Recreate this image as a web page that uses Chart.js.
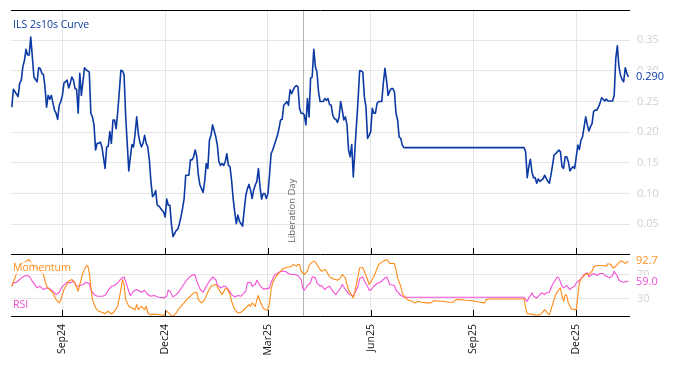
<!DOCTYPE html>
<html><head><meta charset="utf-8">
<script src="https://cdn.jsdelivr.net/npm/chart.js@4.4.1/dist/chart.umd.min.js"></script>
<style>
html,body{margin:0;padding:0;background:#fff;}
#wrap{position:relative;width:674px;height:366px;overflow:hidden;}
canvas{position:absolute;left:0;top:0;}
</style></head><body>
<div id="wrap"><canvas id="cTop" width="674" height="366"></canvas><canvas id="cBot" width="674" height="366"></canvas></div>
<script>
// x = trading-day index from 18 Jul 2024
const tickIdx = [32, 97, 162, 227, 292, 357];
const tickLabels = ['Sep24', 'Dec24', 'Mar25', 'Jun25', 'Sep25', 'Dec25'];
const eventIdx = 184;
const eventLabel = 'Liberation Day';
const curveName = 'ILS 2s10s Curve';
const momName = 'Momentum';
const rsiName = 'RSI';
const curveTicks = [0.05, 0.10, 0.15, 0.20, 0.25, 0.30, 0.35];
const oscTicks = [30, 70];

const curvePoints = [
[0,.241],[1,.270],[2,.266],[4,.258],[5,.280],[6,.285],[7,.307],[8,.317],[9,.335],[10,.326],[11,.326],[12,.355],[13,.323],[14,.290],[16,.282],[17,.305],[18,.304],[19,.296],[20,.294],[21,.274],[22,.241],[23,.260],[24,.254],[25,.260],[27,.236],[28,.231],[29,.221],[30,.244],[31,.250],[32,.260],[33,.280],[35,.285],[36,.272],[37,.280],[38,.290],[39,.285],[40,.271],[41,.270],[42,.231],[43,.296],[44,.260],[45,.282],[46,.305],[47,.302],[49,.298],[50,.231],[51,.225],[52,.212],[53,.171],[54,.182],[55,.182],[56,.184],[57,.176],[59,.141],[60,.176],[61,.177],[62,.201],[63,.182],[64,.220],[65,.220],[66,.206],[67,.233],[68,.266],[69,.301],[70,.300],[71,.294],[72,.228],[73,.182],[74,.137],[75,.160],[76,.180],[77,.176],[78,.198],[79,.225],[80,.198],[81,.184],[82,.176],[83,.182],[84,.195],[85,.182],[86,.176],[87,.155],[88,.120],[89,.095],[90,.098],[91,.105],[92,.081],[93,.080],[95,.073],[96,.070],[97,.062],[98,.091],[99,.081],[100,.081],[101,.049],[102,.030],[103,.035],[104,.040],[105,.042],[106,.051],[107,.062],[108,.076],[109,.092],[110,.130],[111,.130],[112,.130],[113,.155],[114,.155],[115,.160],[116,.171],[117,.160],[118,.130],[119,.114],[121,.102],[122,.120],[123,.149],[124,.141],[125,.187],[126,.195],[127,.212],[129,.193],[130,.179],[131,.152],[132,.146],[133,.149],[134,.146],[135,.152],[136,.165],[137,.146],[138,.144],[139,.122],[140,.092],[141,.070],[142,.051],[143,.065],[144,.055],[145,.051],[146,.047],[147,.073],[148,.097],[149,.108],[150,.115],[151,.106],[152,.092],[153,.106],[154,.114],[155,.120],[156,.141],[157,.111],[158,.091],[159,.100],[160,.100],[161,.092],[162,.100],[163,.130],[164,.165],[165,.171],[166,.179],[168,.195],[169,.206],[170,.220],[171,.221],[172,.244],[173,.247],[174,.250],[175,.244],[176,.269],[177,.263],[178,.269],[179,.274],[180,.276],[181,.274],[182,.239],[183,.231],[184,.231],[185,.228],[186,.212],[187,.255],[188,.225],[189,.288],[190,.290],[191,.335],[192,.307],[193,.298],[194,.266],[195,.250],[196,.250],[197,.250],[198,.255],[199,.252],[200,.255],[201,.245],[202,.244],[203,.228],[204,.222],[205,.221],[206,.216],[207,.225],[208,.250],[209,.236],[210,.220],[211,.225],[212,.212],[213,.171],[214,.160],[215,.180],[216,.127],[217,.171],[218,.212],[219,.252],[220,.300],[221,.300],[222,.298],[223,.258],[224,.241],[225,.190],[226,.195],[227,.201],[228,.239],[229,.231],[230,.231],[231,.247],[232,.250],[233,.250],[234,.250],[235,.280],[236,.304],[237,.285],[238,.260],[239,.267],[240,.271],[241,.271],[242,.266],[243,.231],[244,.220],[245,.192],[246,.190],[247,.179],[248,.175],[270,.175],[300,.175],[324,.175],[325,.168],[326,.126],[327,.144],[328,.156],[329,.135],[330,.126],[331,.126],[332,.117],[333,.124],[334,.120],[336,.124],[337,.130],[338,.125],[339,.120],[340,.117],[341,.130],[342,.146],[343,.163],[344,.165],[345,.168],[346,.171],[347,.168],[348,.144],[349,.141],[350,.160],[351,.160],[352,.152],[353,.137],[354,.141],[355,.144],[356,.141],[357,.160],[358,.179],[359,.172],[360,.187],[361,.193],[362,.209],[363,.225],[364,.212],[365,.202],[366,.209],[367,.214],[368,.234],[369,.236],[370,.236],[371,.241],[372,.247],[373,.256],[374,.254],[375,.251],[376,.254],[377,.251],[380,.251],[381,.260],[382,.320],[383,.341],[384,.307],[385,.293],[386,.286],[387,.282],[388,.305],[389,.296],[390,.290]
];

const momentumPoints = [
[0,51.1],[2,65],[5,87],[8,91],[11,95.6],[13,87],[17,79],[20,70.6],[22,51],[24,45.6],[26,40],[28,28.9],[30,23.4],[31,28.9],[33,45.6],[36,59.5],[38,62.3],[40,56.7],[42,42.8],[43,53.9],[45,73.4],[47,84.5],[48,85.6],[49,73.4],[50,51.1],[51,28.9],[53,15],[55,9.5],[57,7.8],[59,5.6],[61,9.5],[63,5],[65,9.5],[67,17.8],[69,45.6],[70,62.3],[71,53.9],[72,28.9],[74,17.8],[76,15],[78,12.2],[79,20.6],[80,12.2],[82,17.8],[84,12.2],[85,17.8],[86,6.7],[88,3.9],[90,5],[93,3.9],[95,3.4],[96,2.3],[98,9.5],[99,8],[101,2.3],[102,1.1],[104,6.7],[106,15],[109,23.4],[111,30],[113,34.5],[115,40],[117,41.1],[118,28.9],[120,23.4],[122,28.9],[124,41.1],[126,51.1],[129,53.9],[131,45.6],[133,37.2],[135,46.7],[136,48],[138,37.2],[139,26.1],[141,12.2],[143,6.7],[145,7.8],[148,15],[150,20.6],[151,17.8],[152,23.4],[154,17.8],[155,28.9],[156,35.6],[157,26.1],[159,15],[161,11.1],[162,12.2],[163,23.4],[164,45.6],[165,56.7],[167,66.7],[169,73.4],[171,79],[173,81.7],[176,83.4],[177,84.5],[178,87.3],[180,84.5],[181,87.3],[182,87.3],[183,76.1],[185,70.6],[187,76.1],[188,85.6],[190,91.1],[191,92.8],[192,91.1],[193,87.3],[195,79],[196,76.1],[198,79],[199,76.1],[201,66.7],[203,63.4],[205,62.3],[206,61.1],[208,65],[209,70.6],[211,65],[212,53.9],[213,44.5],[215,35.6],[216,31.7],[217,42.8],[219,67.8],[220,81.7],[222,81.7],[223,76.1],[225,62.3],[226,53.9],[227,57.8],[229,67.8],[230,73.4],[232,87.3],[234,91.1],[235,92.8],[237,95.6],[238,93],[239,88.9],[242,88.9],[243,79],[244,65],[246,51.1],[247,38.9],[249,31.7],[251,27.8],[253,26.1],[255,23.4],[257,26.1],[259,24.5],[262,23.4],[265,23.4],[267,27.2],[270,26.1],[273,26.1],[276,24.5],[279,24.5],[281,28.9],[284,28.9],[287,27.8],[291,27.2],[293,26.1],[296,24.5],[299,23.4],[300,28.9],[302,30],[311,30],[319,30],[324,30],[325,15],[326,5.6],[328,5],[330,3.9],[332,2.8],[334,3.9],[335,5.6],[337,12.2],[338,9.5],[339,5.6],[340,3.9],[341,12.2],[343,28.9],[344,37.2],[346,45.6],[347,48.4],[348,34.5],[349,26.1],[350,37.2],[351,35.6],[352,23.4],[354,13.4],[356,12.2],[357,12.2],[358,34.5],[359,56.7],[360,63.4],[362,68.9],[364,72.3],[365,70.6],[367,76.1],[368,83.4],[370,85.6],[372,85.6],[374,85.6],[376,84.5],[377,88.4],[379,87.3],[380,81.7],[381,81.7],[383,87.3],[385,92.8],[386,92.8],[388,88.9],[389,91.1],[390,92.7]
];

const rsiPoints = [
[0,51],[1,56.7],[3,57.8],[5,62.3],[7,66.7],[9,68.9],[11,67.8],[13,59.5],[16,48.4],[18,51],[20,45.6],[22,48.4],[24,46.7],[26,42.8],[28,37.2],[30,41.1],[32,51],[35,57.8],[37,56.7],[39,59.5],[41,51],[43,52.3],[45,53.9],[47,57.8],[49,55.6],[50,45.6],[52,37.2],[54,34.5],[57,34.5],[59,35.6],[61,44.5],[63,51],[65,52.3],[67,56.7],[69,63.4],[71,66.7],[72,59.5],[74,42.8],[75,35.6],[77,42.8],[79,45.6],[82,41.1],[84,44.5],[86,37.2],[88,34.5],[90,35.6],[93,32.8],[96,31.7],[98,34.5],[99,44.5],[100,42.8],[102,33.4],[104,37.2],[106,42.8],[108,51.1],[110,59.5],[113,67.8],[115,70.6],[116,68.9],[117,59.5],[119,46.7],[121,41.1],[123,51.1],[125,59.5],[127,66.7],[129,62.3],[130,53.9],[132,48.4],[134,51.1],[135,51.1],[137,45.6],[139,37.2],[141,33.4],[143,35.6],[145,34.5],[148,42.8],[149,56.7],[151,57.8],[152,51.1],[154,53.9],[155,61.1],[157,52.3],[159,46.7],[161,46.7],[163,48.4],[164,57.8],[166,68.9],[169,74.5],[171,76.1],[173,76.1],[175,72.3],[177,70.6],[179,70.6],[181,68.9],[183,62.3],[184,48.4],[185,44.5],[187,52.3],[189,56.7],[190,66.7],[192,65],[193,56.7],[195,51.1],[196,52.3],[198,45.6],[199,48.4],[201,51.1],[203,42.8],[205,37.2],[206,41.1],[208,48.4],[209,53.9],[211,45.6],[213,38.9],[214,37.2],[216,34.5],[217,40],[219,51.1],[220,63.4],[222,66.7],[223,59.5],[225,51.1],[226,44.5],[227,44.5],[229,51.1],[231,55.6],[233,57.8],[235,62.3],[237,66.7],[238,61.1],[239,53.9],[242,52.3],[243,44.5],[245,38.9],[246,35.6],[248,33.4],[250,32.8],[290,32.8],[324,32.8],[325,29],[326,26.1],[327,31.7],[329,40],[330,34.5],[332,31.7],[334,37.2],[335,40],[337,37.2],[338,40],[340,41.1],[342,53.9],[344,62.3],[345,66.7],[346,65],[348,51.1],[349,48.4],[351,52.3],[353,45.6],[354,48.4],[356,51.1],[357,56.7],[359,61.1],[360,63.4],[362,70.6],[364,73.4],[365,66.7],[367,70.6],[368,72.3],[370,68.9],[372,72.3],[374,72.3],[375,68.9],[377,66.7],[378,65],[380,68.9],[381,76.1],[383,67.8],[384,61.1],[385,59.5],[387,57.8],[389,59.5],[390,59.0]
];

const COL = {blue:'#0c3aa4', orange:'#ff8c1a', pink:'#f24fd6', grid:'#e5e5e5', tick:'#d0d0d0', event:'#b4b4b4'};
const FONT = '"Open Sans", "Noto Sans", sans-serif';
const X_MIN = -0.5, X_MAX = 391;

const toXY = pts => pts.map(p => ({x: p[0], y: p[1]}));

function xScale(showLabels) {
  return {
    type: 'linear', min: X_MIN, max: X_MAX,
    afterBuildTicks: s => { s.ticks = tickIdx.map(v => ({value: v})); },
    afterFit: s => { s.height = showLabels ? 49 : 0; s.paddingLeft = 0; s.paddingRight = 0; },
    grid: {color: COL.grid, drawTicks: false, lineWidth: 1},
    border: {display: false},
    ticks: {
      display: showLabels, autoSkip: false, minRotation: 90, maxRotation: 90, padding: 7,
      color: '#111', font: {family: FONT, size: 10.5},
      callback: (v, i) => tickLabels[i]
    }
  };
}

function yScale(min, max, ticks, fmt) {
  return {
    position: 'right', min: min, max: max,
    afterBuildTicks: s => { s.ticks = ticks.map(v => ({value: v})); },
    afterFit: s => { s.width = 44; s.paddingTop = 0; s.paddingBottom = 0; },
    grid: {color: COL.grid, drawTicks: false},
    border: {display: false},
    ticks: {padding: 7, color: COL.tick, font: {family: FONT, size: 11}, callback: fmt}
  };
}

function drawLabel(ctx, text, x, y, color, size, bg) {
  ctx.font = size + 'px ' + FONT;
  ctx.textAlign = 'left';
  ctx.textBaseline = 'middle';
  if (bg) {
    const w = ctx.measureText(text).width;
    ctx.fillStyle = bg;
    ctx.fillRect(x - 1, y - size * 0.6, w + 2, size * 1.2);
  }
  ctx.fillStyle = color;
  ctx.fillText(text, x, y);
}

function panelPlugin(cfg) {
  return {
    id: 'panel' + cfg.name,
    beforeDatasetsDraw(chart) {
      const {ctx, chartArea: a, scales: {x}} = chart;
      const ex = Math.round(x.getPixelForValue(eventIdx)) + 0.5;
      ctx.save();
      ctx.strokeStyle = COL.event; ctx.lineWidth = 1;
      ctx.beginPath(); ctx.moveTo(ex, a.top); ctx.lineTo(ex, a.bottom); ctx.stroke();
      if (cfg.eventText) {
        ctx.translate(ex - 9, a.bottom - 12);
        ctx.rotate(-Math.PI / 2);
        ctx.font = '9.5px ' + FONT;
        ctx.fillStyle = '#666';
        ctx.textAlign = 'left'; ctx.textBaseline = 'alphabetic';
        ctx.fillText(eventLabel, 0, 0);
      }
      ctx.restore();
    },
    afterDraw(chart) {
      const {ctx, chartArea: a, scales: {x, y}} = chart;
      ctx.save();
      // frame lines
      ctx.strokeStyle = '#000'; ctx.lineWidth = 1;
      ctx.beginPath();
      if (cfg.topLine) { ctx.moveTo(a.left, Math.round(a.top) + 0.5); ctx.lineTo(a.right, Math.round(a.top) + 0.5); }
      ctx.moveTo(a.left, Math.round(a.bottom) - 0.5); ctx.lineTo(a.right, Math.round(a.bottom) - 0.5);
      ctx.stroke();
      // inward tick marks
      ctx.beginPath();
      tickIdx.forEach(v => {
        const px = Math.round(x.getPixelForValue(v)) + 0.5;
        ctx.moveTo(px, a.bottom - 7); ctx.lineTo(px, a.bottom);
      });
      ctx.stroke();
      // series names
      cfg.names.forEach(n => drawLabel(ctx, n.text, a.left + 2, n.y, n.color, 10.5, n.bg));
      // last value labels
      cfg.last.forEach(l => {
        const v = l.pts[l.pts.length - 1][1];
        drawLabel(ctx, v.toFixed(l.dec), a.right + 6, y.getPixelForValue(v), l.color, 11, 'rgba(255,255,255,0.85)');
      });
      ctx.restore();
    }
  };
}

const common = {
  responsive: false, animation: false, devicePixelRatio: 1,
  plugins: {legend: {display: false}, tooltip: {enabled: false}},
  elements: {point: {radius: 0}, line: {tension: 0, borderJoinStyle: 'round'}}
};

new Chart(document.getElementById('cTop'), {
  type: 'line',
  data: {datasets: [{data: toXY(curvePoints), borderColor: COL.blue, borderWidth: 1.6, fill: false}]},
  options: Object.assign({}, common, {
    layout: {padding: {left: 11, top: 9.5, right: 0, bottom: 111}},
    scales: {x: xScale(false), y: yScale(0, 0.40, curveTicks, v => v.toFixed(2))}
  }),
  plugins: [panelPlugin({
    name: 'top', eventText: true, topLine: true,
    names: [{text: curveName, y: 25, color: COL.blue, bg: null}],
    last: [{pts: curvePoints, dec: 3, color: COL.blue}]
  })]
});

new Chart(document.getElementById('cBot'), {
  type: 'line',
  data: {datasets: [
    {data: toXY(momentumPoints), borderColor: COL.orange, borderWidth: 1.1, fill: false},
    {data: toXY(rsiPoints), borderColor: COL.pink, borderWidth: 1.1, fill: false}
  ]},
  options: Object.assign({}, common, {
    layout: {padding: {left: 11, top: 255, right: 0, bottom: 0}},
    scales: {x: xScale(true), y: yScale(0, 103, oscTicks, v => String(v))}
  }),
  plugins: [panelPlugin({
    name: 'bot', eventText: false, topLine: false,
    names: [
      {text: momName, y: 268, color: COL.orange, bg: 'rgba(255,255,255,0.7)'},
      {text: rsiName, y: 305, color: COL.pink, bg: 'rgba(255,255,255,0.7)'}
    ],
    last: [
      {pts: momentumPoints, dec: 1, color: COL.orange},
      {pts: rsiPoints, dec: 1, color: COL.pink}
    ]
  })]
});
</script>
</body></html>
